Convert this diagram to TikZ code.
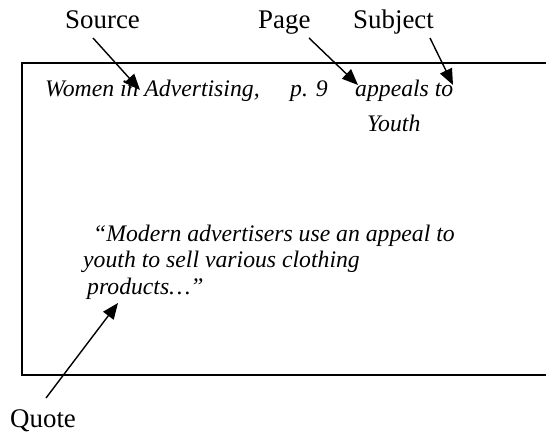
\documentclass[tikz,border=0pt]{standalone}
\usepackage{fontspec}
\setmainfont{Liberation Serif}
\usetikzlibrary{arrows.meta}
\begin{document}
\begin{tikzpicture}[x=1bp,y=-1bp,
  lbl/.style={anchor=base west,inner sep=0pt,font=\fontsize{27}{30}\selectfont},
  itx/.style={anchor=base west,inner sep=0pt,font=\fontsize{23.8}{26}\selectfont\itshape},
  ptr/.style={line width=1.4bp,-{Triangle[length=16bp,width=13bp]}}]
\useasboundingbox (0,0) rectangle (546,434);
\clip (0,0) rectangle (546,434);
\draw[line width=1.9bp] (22,63) rectangle (580,375);
% labels
\node[lbl] (src) at (65,29) {Source};
\node[lbl] (pg) at (258,29) {Page};
\node[lbl] (subj) at (353,29) {Subject};
\node[lbl] (qt) at (10,427) {Quote};
% texts
\node[itx] (women) at (45,97) {Women in Advertising,};
\node[itx] (p9) at (290,97) {p. 9};
\node[itx] (appeals) at (355,97) {appeals to};
\node[itx] (youth) at (367,132) {Youth};
\node[itx] (q1) at (93,242) {“Modern advertisers use an appeal to};
\node[itx] (q2) at (83,268) {youth to sell various clothing};
\node[itx] (q3) at (87,294) {products…”};
% arrow ends
\coordinate (srcT) at (93,38);
\coordinate (srcH) at (140,90);
\coordinate (pgT) at (309,38);
\coordinate (pgH) at (358,85);
\coordinate (subjT) at (430,38);
\coordinate (subjH) at (453,85);
\coordinate (qtT) at (46,398);
\coordinate (qtH) at (118,303);
\draw[ptr] (srcT) -- (srcH);
\draw[ptr] (pgT) -- (pgH);
\draw[ptr] (subjT) -- (subjH);
\draw[ptr] (qtT) -- (qtH);
\end{tikzpicture}
\end{document}
